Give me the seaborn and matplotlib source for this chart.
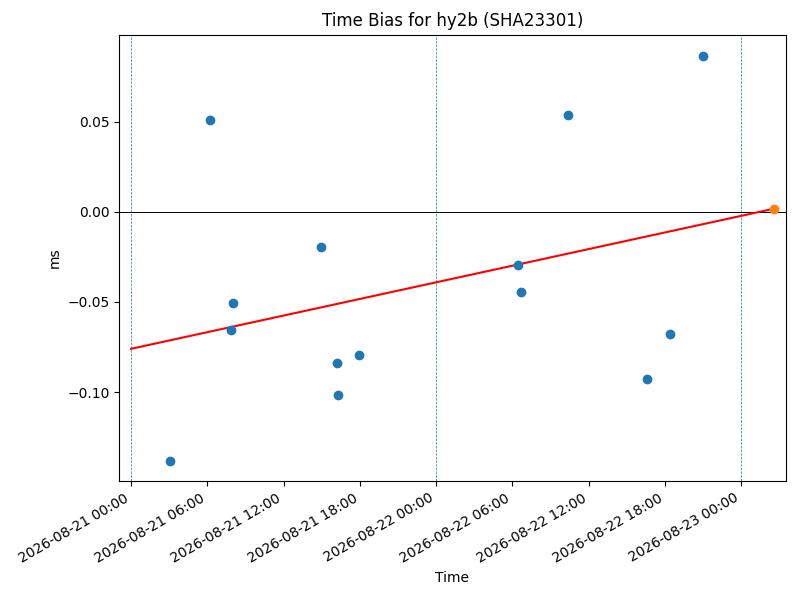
import matplotlib
matplotlib.use("Agg")
import matplotlib.pyplot as plt
import matplotlib.dates as mdates
import seaborn as sns
import pandas as pd

obs_times = [
    "2026-08-21 03:03", "2026-08-21 06:14", "2026-08-21 08:00", "2026-08-21 07:53",
    "2026-08-21 14:55", "2026-08-21 16:11", "2026-08-21 16:16", "2026-08-21 17:55",
    "2026-08-22 06:28", "2026-08-22 06:43", "2026-08-22 10:25", "2026-08-22 16:34",
    "2026-08-22 18:23", "2026-08-22 21:00",
]
obs_bias_ms = [
    -0.1380, 0.0506, -0.0504, -0.0654,
    -0.0194, -0.0837, -0.1018, -0.0796,
    -0.0294, -0.0443, 0.0537, -0.0925,
    -0.0676, 0.0864,
]
pred_time = ["2026-08-23 02:36"]
pred_bias_ms = [0.0017]
trend_times = ["2026-08-21 00:00", "2026-08-23 02:36"]
trend_bias_ms = [-0.0760, 0.0017]
day_marks = ["2026-08-21", "2026-08-22", "2026-08-23"]
title = "Time Bias for hy2b (SHA23301)"

obs = pd.DataFrame({"time": pd.to_datetime(obs_times), "bias": obs_bias_ms})
pred = pd.DataFrame({"time": pd.to_datetime(pred_time), "bias": pred_bias_ms})
trend = pd.DataFrame({"time": pd.to_datetime(trend_times), "bias": trend_bias_ms})

fig, ax = plt.subplots(figsize=(8, 6), dpi=100)
fig.subplots_adjust(left=0.149, right=0.982, top=0.942, bottom=0.198)

for d in pd.to_datetime(day_marks):
    ax.axvline(d, color="#1f77b4", linestyle="--", linewidth=0.5)
ax.axhline(0, color="black", linewidth=0.7)

sns.lineplot(data=trend, x="time", y="bias", ax=ax, color="red", linewidth=1.5)
sns.scatterplot(data=obs, x="time", y="bias", ax=ax, color="#1f77b4", edgecolor="#1f77b4",
                s=36, linewidth=1, zorder=3)
sns.scatterplot(data=pred, x="time", y="bias", ax=ax, color="#ff7f0e", edgecolor="#ff7f0e",
                s=36, linewidth=1, zorder=3)

t0 = pd.Timestamp("2026-08-21 00:00")
ax.set_xlim(t0 - pd.Timedelta(hours=0.93), t0 + pd.Timedelta(hours=51.5))
ax.set_ylim(-0.1494, 0.0981)

ax.xaxis.set_major_locator(mdates.HourLocator(byhour=[0, 6, 12, 18]))
ax.xaxis.set_major_formatter(mdates.DateFormatter("%Y-%m-%d %H:%M"))
for lbl in ax.get_xticklabels():
    lbl.set_rotation(30)
    lbl.set_ha("right")

ax.set_title(title)
ax.set_xlabel("Time")
ax.set_ylabel("ms")

fig.savefig("out.png", dpi=100)
